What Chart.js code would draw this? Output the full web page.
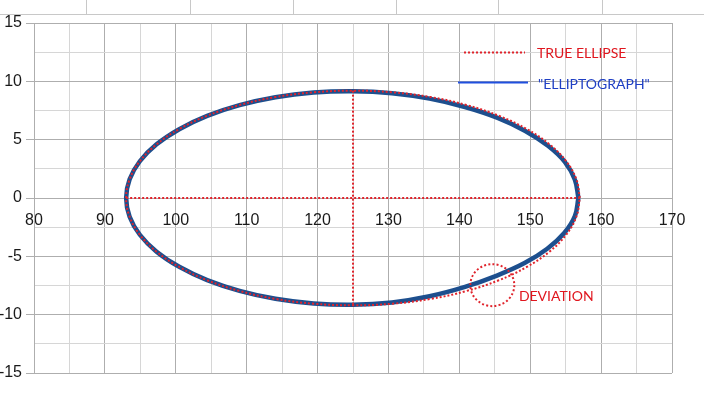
<!DOCTYPE html>
<html>
<head>
<meta charset="utf-8">
<script src="https://cdn.jsdelivr.net/npm/chart.js@4.4.1/dist/chart.umd.min.js"></script>
<style>
  html, body { margin: 0; padding: 0; background: #ffffff; }
  #wrap { width: 704px; height: 416px; position: relative; }
</style>
</head>
<body>
<div id="wrap"><canvas id="c" width="704" height="416"></canvas></div>
<script>
// ---- data ----
const trueEllipseX = [157, 156.51, 155.07, 152.71, 149.51, 145.57, 141, 135.94, 130.56, 125, 119.44, 114.06, 109, 104.43, 100.49, 97.29, 94.93, 93.49, 93, 93.49, 94.93, 97.29, 100.49, 104.43, 109, 114.06, 119.44, 125, 130.56, 135.94, 141, 145.57, 149.51, 152.71, 155.07, 156.51, 157];
const trueEllipseY = [0, 1.6, 3.15, 4.6, 5.91, 7.05, 7.97, 8.65, 9.06, 9.2, 9.06, 8.65, 7.97, 7.05, 5.91, 4.6, 3.15, 1.6, 0, -1.6, -3.15, -4.6, -5.91, -7.05, -7.97, -8.65, -9.06, -9.2, -9.06, -8.65, -7.97, -7.05, -5.91, -4.6, -3.15, -1.6, 0];

const graphX = [156.8, 156.3, 154.9, 152.5, 149.3, 145.4, 140.8, 135.8, 130.5, 125, 119.44, 114.06, 109, 104.43, 100.49, 97.29, 94.93, 93.49, 93, 93.49, 94.93, 97.29, 100.49, 104.43, 109, 114.06, 119.44, 125, 130.5, 135.8, 140.8, 145.3, 149.2, 152.4, 154.8, 156.3, 156.8];
const graphY = [0, 1.57, 3.08, 4.47, 5.75, 6.87, 7.8, 8.52, 8.98, 9.15, 9.04, 8.64, 7.96, 7.04, 5.9, 4.6, 3.15, 1.6, 0, -1.6, -3.15, -4.6, -5.9, -7.04, -7.96, -8.64, -9.04, -9.15, -8.95, -8.42, -7.62, -6.65, -5.58, -4.35, -3.0, -1.55, 0];

const majorAxisX = [93, 157];
const majorAxisY = [0, 0];
const minorAxisX = [125, 125];
const minorAxisY = [9.2, -9.2];

const deviationMark = [144.65, -7.47];   // centre of dotted circle (data units)
const deviationLabelAt = [148.4, -8.4];

const xTicks = [80, 90, 100, 110, 120, 130, 140, 150, 160, 170];
const yTicks = [-15, -10, -5, 0, 5, 10, 15];

const seriesNames = ['TRUE ELLIPSE', '"ELLIPTOGRAPH"'];
const deviationText = 'DEVIATION';

// ---- helpers ----
const toPoints = (xs, ys) => xs.map((x, i) => ({ x: x, y: ys[i] }));

const RED = '#e0242c';
const BLUE_LINE = '#1d4f8e';
const GRID_MAJOR = '#aeaeae';
const GRID_MINOR = '#d6d6d6';

const sheetPlugin = {
  id: 'sheet',
  beforeDraw(chart) {
    const ctx = chart.ctx;
    ctx.save();
    ctx.fillStyle = '#ffffff';
    ctx.fillRect(0, 0, chart.width, chart.height);
    ctx.strokeStyle = '#c8c8c8';
    ctx.lineWidth = 1;
    ctx.beginPath();
    ctx.moveTo(0, 14.5); ctx.lineTo(chart.width, 14.5);
    [86, 190, 293, 396, 498, 602].forEach(x => { ctx.moveTo(x + 0.5, 0); ctx.lineTo(x + 0.5, 14); });
    ctx.stroke();
    ctx.restore();
  }
};

const notePlugin = {
  id: 'notes',
  afterDatasetsDraw(chart) {
    const ctx = chart.ctx;
    const sx = chart.scales.x, sy = chart.scales.y;
    ctx.save();
    // dotted deviation circle
    const cx = sx.getPixelForValue(deviationMark[0]);
    const cy = sy.getPixelForValue(deviationMark[1]);
    ctx.strokeStyle = RED;
    ctx.lineWidth = 2;
    ctx.setLineDash([2, 2.2]);
    ctx.beginPath();
    ctx.ellipse(cx, cy, 22, 21, 0, 0, Math.PI * 2);
    ctx.stroke();
    // deviation label
    ctx.setLineDash([]);
    ctx.font = '14px Lato, "Liberation Sans", sans-serif';
    ctx.textBaseline = 'middle';
    ctx.textAlign = 'left';
    ctx.fillStyle = '#e0161e';
    ctx.fillText(deviationText, sx.getPixelForValue(deviationLabelAt[0]), sy.getPixelForValue(deviationLabelAt[1]));

    // legend
    ctx.strokeStyle = RED;
    ctx.lineWidth = 2;
    ctx.setLineDash([2, 2]);
    ctx.beginPath(); ctx.moveTo(464, 52.5); ctx.lineTo(525, 52.5); ctx.stroke();
    ctx.setLineDash([]);
    ctx.strokeStyle = '#1f4fe0';
    ctx.lineWidth = 2;
    ctx.beginPath(); ctx.moveTo(458, 82.5); ctx.lineTo(528, 82.5); ctx.stroke();
    ctx.fillStyle = '#e0161e';
    ctx.fillText(seriesNames[0], 537, 53);
    ctx.fillStyle = '#1f3fc4';
    ctx.fillText(seriesNames[1], 538, 84);
    ctx.restore();
  }
};

new Chart(document.getElementById('c'), {
  type: 'scatter',
  data: {
    datasets: [
      { label: seriesNames[0], data: toPoints(trueEllipseX, trueEllipseY), showLine: true, borderColor: RED, borderWidth: 2, borderDash: [2, 2], tension: 0.4, pointRadius: 0, fill: false },
      { label: 'axis-major', data: toPoints(majorAxisX, majorAxisY), showLine: true, borderColor: RED, borderWidth: 2, borderDash: [2, 2], pointRadius: 0 },
      { label: 'axis-minor', data: toPoints(minorAxisX, minorAxisY), showLine: true, borderColor: RED, borderWidth: 2, borderDash: [2, 2], pointRadius: 0 },
      { label: seriesNames[1], data: toPoints(graphX, graphY), showLine: true, borderColor: BLUE_LINE, borderWidth: 4.5, tension: 0.4, pointRadius: 0, fill: false }
    ]
  },
  options: {
    responsive: false,
    animation: false,
    devicePixelRatio: 1,
    layout: { padding: { left: 0, top: 23, right: 32, bottom: 43 } },
    plugins: { legend: { display: false }, tooltip: { enabled: false } },
    scales: {
      x: {
        type: 'linear',
        position: { y: 0 },
        min: 80, max: 170,
        afterBuildTicks: (s) => { const t = []; for (let v = 80; v <= 170; v += 5) t.push({ value: v }); s.ticks = t; },
        ticks: {
          autoSkip: false, maxRotation: 0,
          padding: 13,
          color: '#1a1a1a',
          font: { family: '"Liberation Sans", Arial, sans-serif', size: 16 },
          callback: (v) => xTicks.includes(v) ? String(v) : ''
        },
        grid: {
          drawTicks: false,
          color: (c) => (c.tick && xTicks.includes(c.tick.value)) ? GRID_MAJOR : GRID_MINOR,
          lineWidth: 1
        },
        border: { display: true, color: GRID_MAJOR, width: 1 }
      },
      y: {
        type: 'linear',
        min: -15, max: 15,
        afterBuildTicks: (s) => { const t = []; for (let v = -15; v <= 15; v += 2.5) t.push({ value: v }); s.ticks = t; },
        afterFit: (s) => { s.width = 34; },
        ticks: {
          autoSkip: false,
          padding: 4,
          color: '#1a1a1a',
          font: { family: '"Liberation Sans", Arial, sans-serif', size: 16 },
          callback: (v) => yTicks.includes(v) ? String(v) : ''
        },
        grid: {
          tickLength: 8,
          color: (c) => (c.tick && yTicks.includes(c.tick.value)) ? GRID_MAJOR : GRID_MINOR,
          tickColor: (c) => (c.tick && yTicks.includes(c.tick.value)) ? GRID_MAJOR : 'rgba(0,0,0,0)',
          lineWidth: 1
        },
        border: { display: true, color: GRID_MAJOR, width: 1 }
      }
    }
  },
  plugins: [sheetPlugin, notePlugin]
});
</script>
</body>
</html>
